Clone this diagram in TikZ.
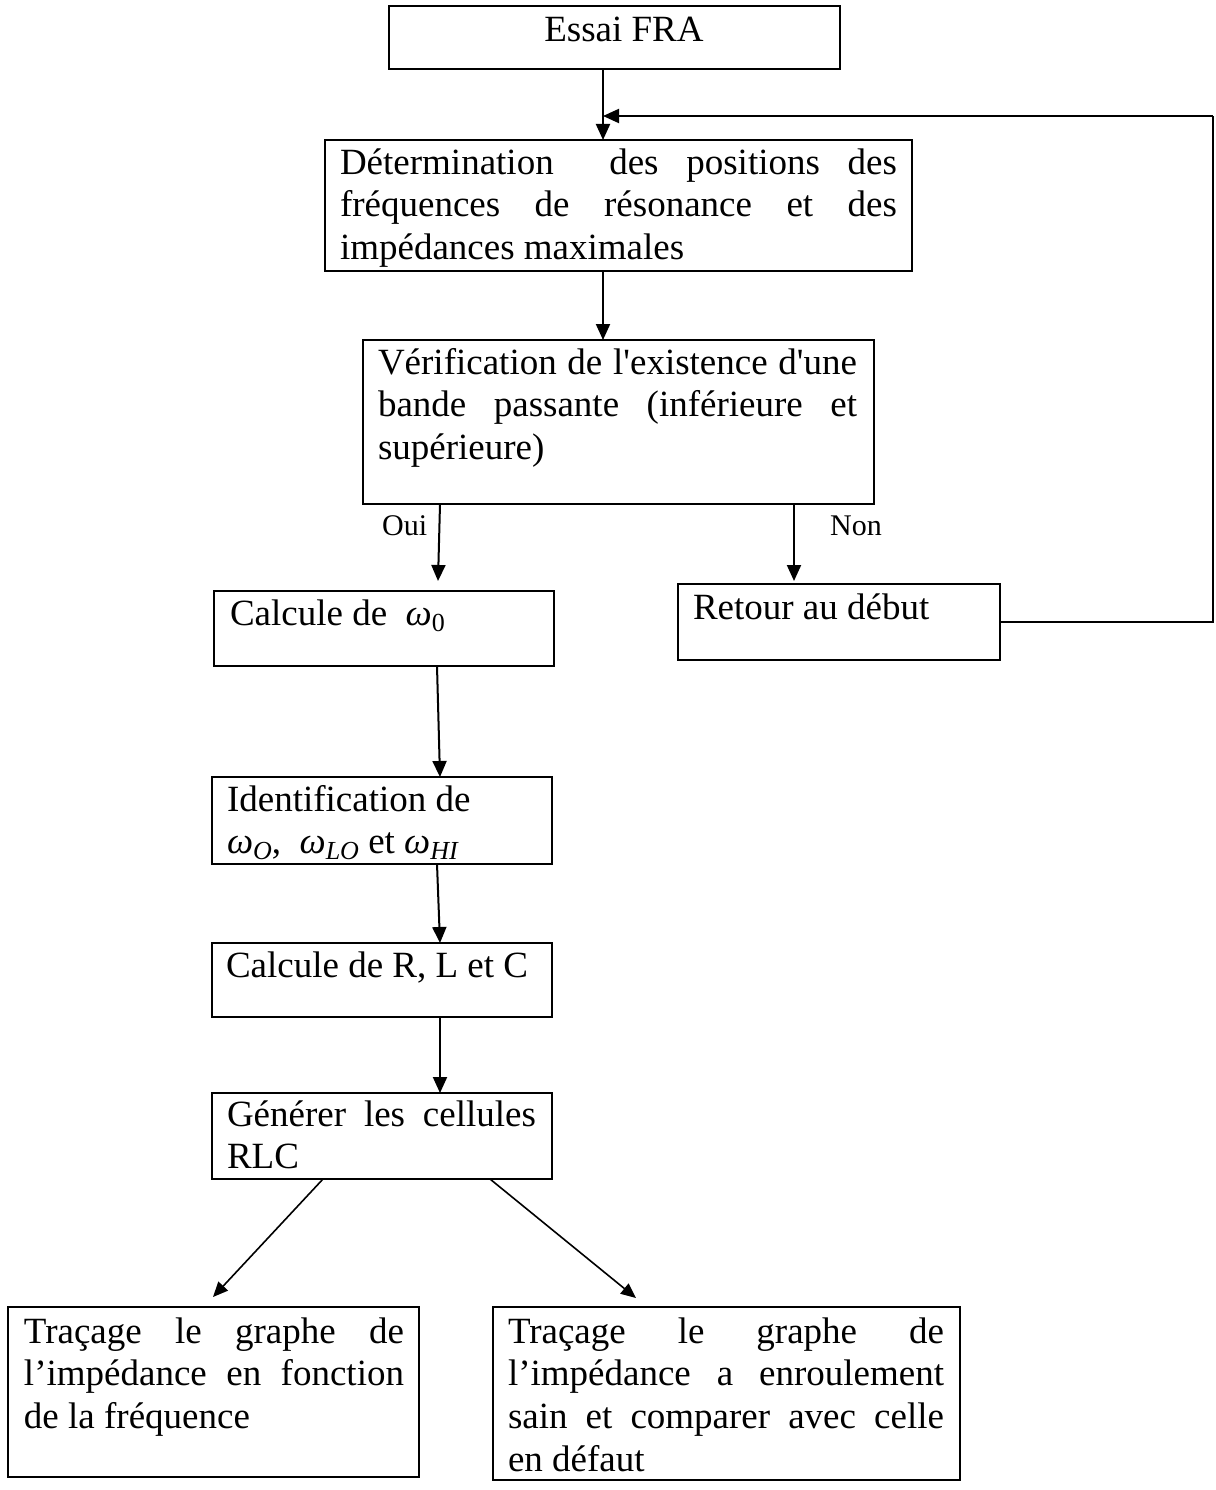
\documentclass[tikz,border=0pt]{standalone}
\usepackage{fontspec}
\setmainfont{Liberation Serif}[Ligatures=TeXOff]
\usetikzlibrary{arrows.meta,calc}

% box text: width, height, left pad, right pad, first baseline, text
\newcommand{\boxtext}[6]{\parbox[c][#2][t]{#1}{\leftskip=#3\rightskip=#4\relax\rule{0pt}{#5}#6}}
% omega with a lowered subscript
\newcommand{\om}[1]{{\itshape ω}\raisebox{-6pt}{\fontsize{26pt}{30pt}\selectfont #1}}

\begin{document}
\begin{tikzpicture}[x=1pt,y=-1pt,
  blk/.style={draw, line width=2.6pt, inner sep=0pt, outer sep=0pt, anchor=north west,
              font=\fontsize{37pt}{42.7pt}\selectfont},
  arr/.style={line width=2pt, -{Triangle[length=16pt,width=14pt]}},
  thin arr/.style={line width=1.6pt, -{Triangle[length=15pt,width=13pt]}},
  lbl/.style={anchor=base west, inner sep=0pt, font=\fontsize{30pt}{34pt}\selectfont}]

\useasboundingbox (0,0) rectangle (1215,1490);

% process boxes
\node[blk] (essai) at (389,6)
  {\parbox[c][63pt][t]{451pt}{\centering\rule{0pt}{36pt}\hspace*{19pt}Essai FRA}};

\node[blk] (det) at (325,140)
  {\boxtext{587pt}{131pt}{15pt}{15pt}{34pt}{D\'etermination\ \ des positions des\linebreak
   fr\'equences de r\'esonance et des\linebreak imp\'edances maximales}};

\node[blk] (ver) at (363,340)
  {\boxtext{511pt}{164pt}{15pt}{17pt}{34pt}{V\'erification de l'existence d'une\linebreak
   bande passante (inf\'erieure et\linebreak sup\'erieure)}};

\node[blk] (calc) at (214,591)
  {\boxtext{340pt}{75pt}{16pt}{10pt}{34pt}{Calcule de\ \ \om{0}}};

\node[blk] (ret) at (678,584)
  {\boxtext{322pt}{76pt}{15pt}{10pt}{35pt}{Retour au d\'ebut}};

\node[blk] (ident) at (212,777)
  {\boxtext{340pt}{87pt}{15pt}{10pt}{34pt}{Identification de\\
   \om{\itshape O},\ \ \om{\itshape LO} et \om{\itshape HI}}};

\node[blk] (rlc) at (212,943)
  {\boxtext{340pt}{74pt}{14pt}{10pt}{34pt}{Calcule de R, L et C}};

\node[blk] (gen) at (212,1093)
  {\boxtext{340pt}{86pt}{15pt}{16pt}{33pt}{G\'en\'erer les cellules\linebreak RLC}};

\node[blk] (trl) at (8,1307)
  {\boxtext{411pt}{170pt}{16pt}{15pt}{36pt}{Tra\c{c}age le graphe de\linebreak
   l’imp\'edance en fonction\linebreak de la fr\'equence}};

\node[blk] (trr) at (493,1307)
  {\boxtext{467pt}{173pt}{15pt}{16pt}{36pt}{Tra\c{c}age le graphe de\linebreak
   l’imp\'edance a enroulement\linebreak sain et comparer avec celle\linebreak en d\'efaut}};

% branch labels
\node[lbl] (oui) at (382,535) {Oui};
\node[lbl] (non) at (830,535) {Non};

% connectors
\coordinate (join) at (603,116);
\coordinate (rcorner) at (1213,116);

\draw[arr] (essai.south -| join) -- (det.north -| join);
\draw[arr] (det.south -| join) -- (ver.north -| join);
\draw[line width=2pt] (ret.east) -| (rcorner);
\draw[arr] (rcorner) -- (join);

\draw[arr] ([xshift=77pt]ver.south west) -- ([xshift=224pt,yshift=10pt]calc.north west);
\draw[arr] ([xshift=431pt]ver.south west) -- ([xshift=116pt,yshift=3pt]ret.north west);

\draw[arr] ([xshift=223pt]calc.south west) -- ([xshift=228pt]ident.north west);
\draw[arr] ([xshift=225pt]ident.south west) -- ([xshift=228pt]rlc.north west);
\draw[arr] ([xshift=228pt]rlc.south west) -- ([xshift=228pt]gen.north west);

\draw[thin arr] ([xshift=111pt]gen.south west) -- ([xshift=205pt,yshift=10pt]trl.north west);
\draw[thin arr] ([xshift=278pt]gen.south west) -- ([xshift=143pt,yshift=9pt]trr.north west);

\end{tikzpicture}
\end{document}
